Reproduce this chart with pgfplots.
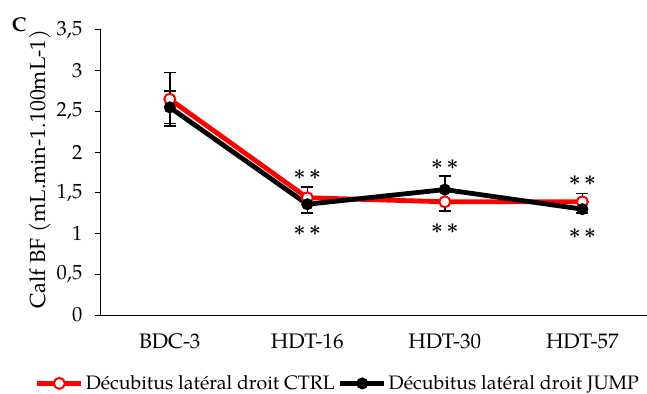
\documentclass[border=0pt]{standalone}
\usepackage{amsmath}
\usepackage{fontspec}
\setmainfont{TeX Gyre Pagella}
\usepackage{pgfplots}
\pgfplotsset{compat=1.18}
\definecolor{ctrlred}{RGB}{255,0,0}
\newcommand{\sig}{$\boldsymbol{\ast}\,\boldsymbol{\ast}$}
\begin{document}
\fontsize{19.5bp}{23bp}\selectfont
\begin{tikzpicture}
\path[use as bounding box] (-101bp,-79bp) rectangle (546bp,315bp);
\begin{axis}[
  at={(0,0)}, anchor=south west, scale only axis,
  width=546bp, height=285bp,
  xmin=-0.5, xmax=3.47, ymin=0, ymax=3.5,
  axis x line=bottom, axis y line=left,
  axis line style={-, line width=1bp, black},
  xtick={0,1,2,3}, xticklabels={BDC-3,HDT-16,HDT-30,HDT-57},
  x tick style={draw=none},
  ytick={0,0.5,1,1.5,2,2.5,3,3.5},
  yticklabel={\pgfmathprintnumber[use comma,fixed,assume math mode=true]{\tick}},
  y tick style={line width=1bp, black},
  tick align=outside, major tick length=6bp,
  xticklabel style={yshift=-6bp, font=\fontsize{21bp}{24bp}\selectfont},
  yticklabel style={xshift=-6bp, font=\fontsize{20.5bp}{24bp}\selectfont},
  ylabel={Calf BF (mL.min-1.100mL-1)},
  ylabel style={at={(axis description cs:-0.112,0.512)}, anchor=center, rotate=0,
    font=\fontsize{21.8bp}{25bp}\selectfont},
  legend columns=2,
  legend style={at={(axis description cs:0.434,-0.24)}, anchor=center, draw=none,
    /tikz/every even column/.append style={column sep=1bp}, inner sep=0pt},
  legend image code/.code={\draw[mark repeat=2,mark phase=2] plot coordinates {(0bp,0bp)(22bp,0bp)(44bp,0bp)};},
  clip=false,
]
\addplot[ctrlred, line width=4.8bp, mark=*, mark size=5.5bp,
  mark options={fill=white, draw=ctrlred, line width=2bp, solid},
  error bars/.cd, y dir=both, y explicit,
  error bar style={black, line width=1.5bp},
  error mark options={black, rotate=90, mark size=6bp, line width=1.5bp}]
coordinates {
  (0,2.65) += (0,0.33) -= (0,0.33)
  (1,1.44) += (0,0.13) -= (0,0)
  (2,1.39) += (0,0) -= (0,0.11)
  (3,1.39) += (0,0.10) -= (0,0)
};
\addlegendentry{Décubitus latéral droit CTRL}
\addplot[black, line width=4.8bp, mark=*, mark size=5.5bp,
  mark options={fill=black, draw=black, line width=1bp, solid},
  error bars/.cd, y dir=both, y explicit,
  error bar style={black, line width=1.5bp},
  error mark options={black, rotate=90, mark size=6bp, line width=1.5bp}]
coordinates {
  (0,2.55) += (0,0.20) -= (0,0.20)
  (1,1.36) += (0,0) -= (0,0.11)
  (2,1.54) += (0,0.17) -= (0,0)
  (3,1.30) += (0,0) -= (0,0.05)
};
\addlegendentry{Décubitus latéral droit JUMP}
\node[font=\fontsize{19bp}{24bp}\selectfont] at (axis cs:1,1.72) {\sig};
\node[font=\fontsize{19bp}{24bp}\selectfont] at (axis cs:1,1.04) {\sig};
\node[font=\fontsize{19bp}{24bp}\selectfont] at (axis cs:2,1.85) {\sig};
\node[font=\fontsize{19bp}{24bp}\selectfont] at (axis cs:2,1.06) {\sig};
\node[font=\fontsize{19bp}{24bp}\selectfont] at (axis cs:3,1.65) {\sig};
\node[font=\fontsize{19bp}{24bp}\selectfont] at (axis cs:3,1.00) {\sig};
\end{axis}
\node[font=\fontsize{20bp}{24bp}\selectfont\bfseries] at (-82bp,290bp) {C};
\end{tikzpicture}
\end{document}
